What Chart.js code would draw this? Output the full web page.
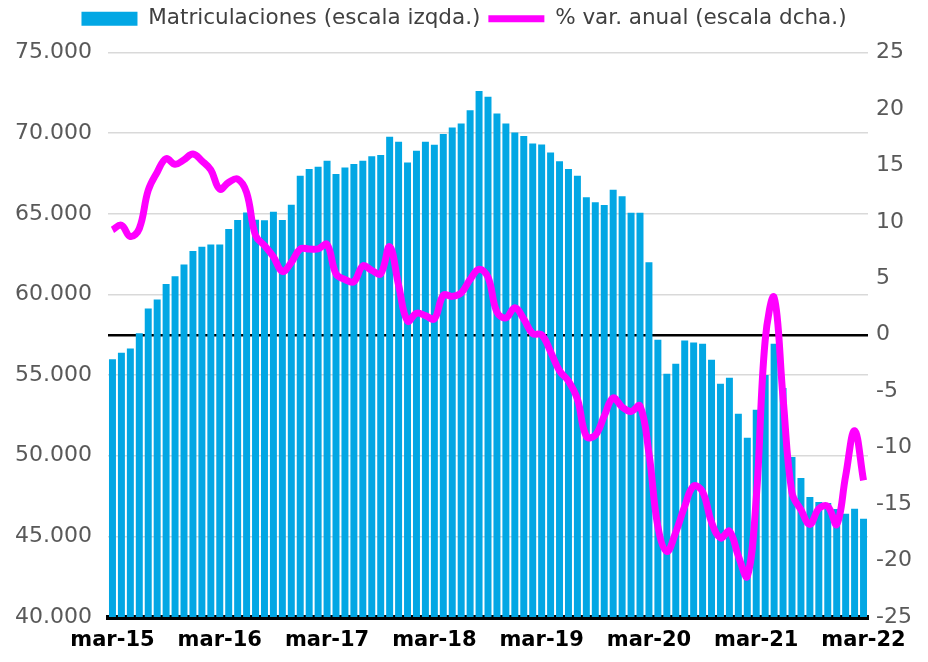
<!DOCTYPE html>
<html>
<head>
<meta charset="utf-8">
<script src="https://cdn.jsdelivr.net/npm/chart.js@4/dist/chart.umd.min.js"></script>
<style>
  html, body { margin: 0; padding: 0; background: #fff; }
  #wrap { width: 928px; height: 662px; }
</style>
</head>
<body>
<div id="wrap"><canvas id="chart" width="928" height="662"></canvas></div>
<script>
var meses = ['ene', 'feb', 'mar', 'abr', 'may', 'jun', 'jul', 'ago', 'sep', 'oct', 'nov', 'dic'];

// mar-15 .. mar-22, mensual
var labels = [];
for (var y = 15; y <= 22; y++) {
    for (var m = 0; m < 12; m++) {
        if (y == 15 && m < 2) continue;
        if (y == 22 && m > 2) break;
        labels.push(meses[m] + '-' + y);
    }
}

var matriculaciones = [
    55980, 56380, 56650, 57590, 59120, 59690, 60650, 61120, 61850, 62700, 62950, 63100,
    63100, 64060, 64620, 65080, 64630, 64600, 65120, 64620, 65560, 67360, 67770, 67920,
    68290, 67460, 67870, 68080, 68290, 68560, 68640, 69770, 69460, 68180, 68910, 69460,
    69280, 69940, 70350, 70600, 71420, 72620, 72250, 71220, 70600, 70040, 69830, 69360,
    69300, 68800, 68250, 67770, 67360, 66020, 65710, 65540, 66490, 66080, 65070, 65070,
    61990, 57190, 55080, 55700, 57150, 57020, 56940, 55950, 54460, 54830, 52600, 51110,
    52850, 55000, 56940, 54200, 49920, 48620, 47440, 47130, 47070, 46700, 46400, 46710,
    46090
];

var varAnual = [
    9.3, 9.7, 8.7, 9.4, 12.8, 14.4, 15.6, 15.1, 15.5, 16.0, 15.4, 14.6,
    12.9, 13.5, 13.8, 12.6, 8.8, 7.9, 6.9, 5.6, 6.4, 7.6, 7.6, 7.6,
    8.0, 5.4, 4.9, 4.7, 6.1, 5.7, 5.4, 7.8, 4.4, 1.2, 1.9, 1.7,
    1.4, 3.5, 3.4, 3.7, 4.9, 5.8, 5.1, 2.0, 1.5, 2.4, 1.4, 0.1,
    0.0, -1.5, -3.2, -4.1, -5.7, -9.0, -8.9, -7.2, -5.6, -6.4, -6.8, -6.3,
    -10.5, -17.0, -19.2, -17.5, -15.2, -13.4, -13.9, -16.6, -18.0, -17.4, -19.6, -21.4,
    -14.5, -0.5, 3.3, -5.6, -14.0, -15.5, -16.8, -15.4, -15.2, -16.8, -12.5, -8.5,
    -12.9
];

var azul = '#02a7e4';
var magenta = '#ff00ff';
var gris = '#595959';

function miles(v) {
    return String(v).replace(/\B(?=(\d{3})+(?!\d))/g, '.');
}

// deja mas hueco entre la leyenda y el grafico
var espacioLeyenda = {
    id: 'espacioLeyenda',
    beforeLayout: function(chart) {
        var lg = chart.legend;
        if (lg && !lg._hueco) {
            var fit = lg.fit;
            lg.fit = function() {
                fit.call(this);
                this.height += 13;
            };
            lg._hueco = true;
        }
    }
};

var ctx = document.getElementById('chart').getContext('2d');

new Chart(ctx, {
    type: 'bar',
    data: {
        labels: labels,
        datasets: [{
            type: 'line',
            label: '% var. anual (escala dcha.)',
            data: varAnual,
            yAxisID: 'y1',
            borderColor: magenta,
            backgroundColor: magenta,
            borderWidth: 7,
            pointRadius: 0,
            pointStyle: 'line',
            tension: 0.4,
            order: 0
        }, {
            label: 'Matriculaciones (escala izqda.)',
            data: matriculaciones,
            yAxisID: 'y',
            backgroundColor: azul,
            barPercentage: 0.78,
            categoryPercentage: 1,
            pointStyle: 'rect',
            order: 1
        }]
    },
    plugins: [espacioLeyenda],
    options: {
        responsive: false,
        animation: false,
        layout: { padding: { top: 0 } },
        plugins: {
            tooltip: { enabled: false },
            legend: {
                reverse: true,
                labels: {
                    usePointStyle: true,
                    pointStyleWidth: 56,
                    boxHeight: 14,
                    padding: 8,
                    color: '#404040',
                    font: { family: 'DejaVu Sans', size: 21.5 }
                }
            }
        },
        scales: {
            x: {
                grid: { display: false },
                border: { color: '#000', width: 5 },
                ticks: {
                    autoSkip: false,
                    maxRotation: 0,
                    color: '#000',
                    font: { family: 'DejaVu Sans', size: 21, weight: 'bold' },
                    callback: function(v, i) {
                        return i % 12 == 0 ? labels[i] : '';
                    }
                },
                afterFit: function(s) { s.height = 45; }
            },
            y: {
                position: 'left',
                min: 40000,
                max: 75000,
                grid: { color: '#d9d9d9', lineWidth: 1.5, drawTicks: false },
                border: { display: false },
                ticks: {
                    stepSize: 5000,
                    padding: 16,
                    color: gris,
                    font: { family: 'DejaVu Sans', size: 22 },
                    callback: function(v) { return miles(v); }
                },
                afterFit: function(s) { s.width = 108; }
            },
            y1: {
                position: 'right',
                min: -25,
                max: 25,
                grid: {
                    drawTicks: false,
                    color: function(c) { return c.tick && c.tick.value == 0 ? '#000' : 'rgba(0,0,0,0)'; },
                    lineWidth: 2.5
                },
                border: { display: false },
                ticks: {
                    stepSize: 5,
                    padding: 8,
                    color: gris,
                    font: { family: 'DejaVu Sans', size: 22 }
                },
                afterFit: function(s) { s.width = 60; }
            }
        }
    }
});
</script>
</body>
</html>
